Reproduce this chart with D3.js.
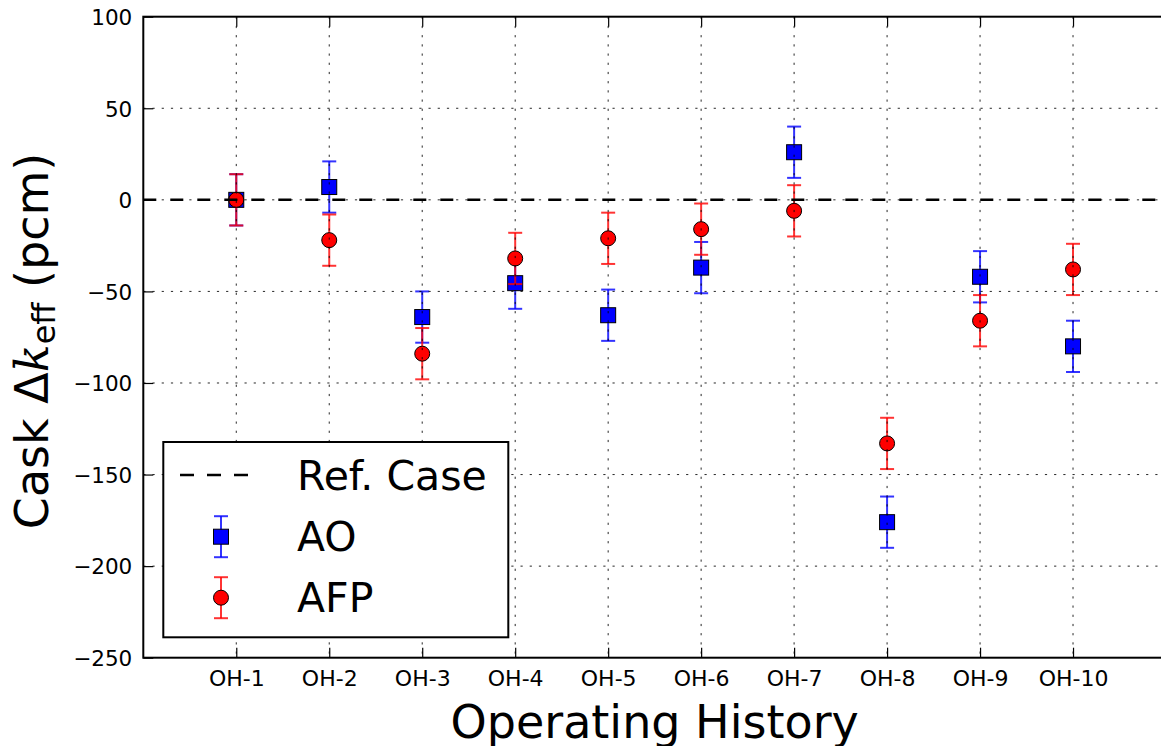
<!DOCTYPE html>
<html>
<head>
<meta charset="utf-8">
<script src="https://cdn.jsdelivr.net/npm/d3@7"></script>
<style>
  html, body { margin: 0; padding: 0; background: #fff; }
  svg { display: block; font-family: "DejaVu Sans", sans-serif; }
</style>
</head>
<body>
<svg id="chart" width="1161" height="746"></svg>
<script>
const categories = ["OH-1", "OH-2", "OH-3", "OH-4", "OH-5", "OH-6", "OH-7", "OH-8", "OH-9", "OH-10"];
const aoValues  = [0, 7, -64, -45.5, -63, -37, 26, -176, -42, -80];
const afpValues = [0, -22, -84, -32, -21, -16, -6, -133, -66, -38];
const aoErr  = [14, 14, 14, 14, 14, 14, 14, 14, 14, 14];
const afpErr = [14, 14, 14, 14, 14, 14, 14, 14, 14, 14];
const yTicks = [100, 50, 0, -50, -100, -150, -200, -250];
const refValue = 0;
const legendLabels = ["Ref. Case", "AO", "AFP"];

const svg = d3.select("#chart");
const L = 143.3, R = 1166, T = 16.7, B = 657.7;

const x = d3.scaleLinear().domain([0, 11]).range([L, R]);
const y = d3.scaleLinear().domain([-250, 100]).range([B, T]);
const idx = categories.map((c, i) => i + 1);

const plot = svg.append("g");

function drawSeries(vals, errs, color, shape) {
  const g = plot.append("g");
  const capW = 7;
  vals.forEach((v, i) => {
    const cx = x(idx[i]);
    const e = errs[i];
    const eg = g.append("g").attr("stroke", color).attr("stroke-opacity", 0.8).attr("stroke-width", 2);
    eg.append("line").attr("x1", cx).attr("x2", cx).attr("y1", y(v + e)).attr("y2", y(v - e));
    eg.append("line").attr("x1", cx - capW).attr("x2", cx + capW).attr("y1", y(v + e)).attr("y2", y(v + e));
    eg.append("line").attr("x1", cx - capW).attr("x2", cx + capW).attr("y1", y(v - e)).attr("y2", y(v - e));
  });
  vals.forEach((v, i) => {
    const cx = x(idx[i]), cy = y(v);
    if (shape === "square") {
      g.append("rect").attr("x", cx - 7.5).attr("y", cy - 7.5).attr("width", 15).attr("height", 15)
        .attr("fill", color).attr("stroke", "#000").attr("stroke-width", 1);
    } else {
      g.append("circle").attr("cx", cx).attr("cy", cy).attr("r", 7.5)
        .attr("fill", color).attr("stroke", "#000").attr("stroke-width", 1);
    }
  });
}
drawSeries(aoValues, aoErr, "#0000ff", "square");
drawSeries(afpValues, afpErr, "#ff0000", "circle");

plot.append("line")
  .attr("x1", L).attr("x2", R).attr("y1", y(refValue)).attr("y2", y(refValue))
  .attr("stroke", "#000").attr("stroke-width", 2.5).attr("stroke-dasharray", "13,14");

const grid = svg.append("g").attr("stroke", "#000").attr("stroke-width", 1).attr("stroke-dasharray", "2.2,7")
  .attr("stroke-opacity", 0.85);
grid.selectAll(".gx").data(idx).enter().append("line")
  .attr("x1", d => x(d)).attr("x2", d => x(d)).attr("y1", T).attr("y2", B);
grid.selectAll(".gy").data(yTicks.filter(t => t > -250 && t < 100)).enter().append("line")
  .attr("x1", L).attr("x2", R).attr("y1", d => y(d)).attr("y2", d => y(d));

const yAxis = d3.axisLeft(y).tickValues(yTicks)
  .tickFormat(d => (d < 0 ? "\u2212" + Math.abs(d) : String(d)))
  .tickSizeInner(-10).tickSizeOuter(0).tickPadding(11);
const xAxis = d3.axisBottom(x).tickValues(idx).tickFormat((d, i) => categories[i])
  .tickSizeInner(-10).tickSizeOuter(0).tickPadding(11);
const xTop = d3.axisTop(x).tickValues(idx).tickFormat("").tickSizeInner(-10).tickSizeOuter(0);

const gy = svg.append("g").attr("transform", `translate(${L},0)`).call(yAxis);
const gx = svg.append("g").attr("transform", `translate(0,${B})`).call(xAxis);
const gt = svg.append("g").attr("transform", `translate(0,${T})`).call(xTop);
[gy, gx, gt].forEach(g => {
  g.select(".domain").remove();
  g.selectAll(".tick line").attr("stroke", "#000").attr("stroke-width", 1.2);
  g.selectAll(".tick text").attr("font-family", "DejaVu Sans").attr("fill", "#000");
});
gy.selectAll(".tick text").attr("font-size", 21.5).attr("dy", "0.36em");
gx.selectAll(".tick text").attr("font-size", 22).attr("dy", null).attr("y", 28);

const frame = svg.append("g").attr("stroke", "#000").attr("stroke-width", 2).attr("fill", "none");
frame.append("rect").attr("x", L).attr("y", T).attr("width", R - L).attr("height", B - T);

svg.append("text").attr("x", (L + R) / 2).attr("y", 738).attr("text-anchor", "middle")
  .attr("font-size", 46).attr("fill", "#000").text("Operating History");

const yl = svg.append("text").attr("transform", "translate(48,341) rotate(-90)")
  .attr("text-anchor", "middle").attr("font-size", 46).attr("fill", "#000");
yl.append("tspan").text("Cask Δ");
yl.append("tspan").attr("font-style", "italic").attr("font-family", "DejaVu Serif").text("k");
yl.append("tspan").attr("font-size", 32).attr("dy", 7).text("eff");
yl.append("tspan").attr("dy", -7).text(" (pcm)");

const lg = svg.append("g");
lg.append("rect").attr("x", 163.3).attr("y", 442).attr("width", 345).attr("height", 195.3)
  .attr("fill", "#fff").attr("stroke", "#000").attr("stroke-width", 2);
const rowsY = [475, 536.7, 597.7];
lg.append("line").attr("x1", 180).attr("x2", 250).attr("y1", rowsY[0]).attr("y2", rowsY[0])
  .attr("stroke", "#000").attr("stroke-width", 2.5).attr("stroke-dasharray", "14,13");
function legendErr(cy, color) {
  const g = lg.append("g").attr("stroke", color).attr("stroke-opacity", 0.8).attr("stroke-width", 2);
  g.append("line").attr("x1", 221).attr("x2", 221).attr("y1", cy - 20.5).attr("y2", cy + 20.5);
  g.append("line").attr("x1", 214).attr("x2", 228).attr("y1", cy - 20.5).attr("y2", cy - 20.5);
  g.append("line").attr("x1", 214).attr("x2", 228).attr("y1", cy + 20.5).attr("y2", cy + 20.5);
}
legendErr(rowsY[1], "#0000ff");
lg.append("rect").attr("x", 221 - 7.5).attr("y", rowsY[1] - 7.5).attr("width", 15).attr("height", 15)
  .attr("fill", "#0000ff").attr("stroke", "#000");
legendErr(rowsY[2], "#ff0000");
lg.append("circle").attr("cx", 221).attr("cy", rowsY[2]).attr("r", 7.5)
  .attr("fill", "#ff0000").attr("stroke", "#000");
legendLabels.forEach((t, i) => {
  lg.append("text").attr("x", 297).attr("y", rowsY[i] + 14.5).attr("font-size", 41)
    .attr("fill", "#000").text(t);
});
</script>
</body>
</html>
